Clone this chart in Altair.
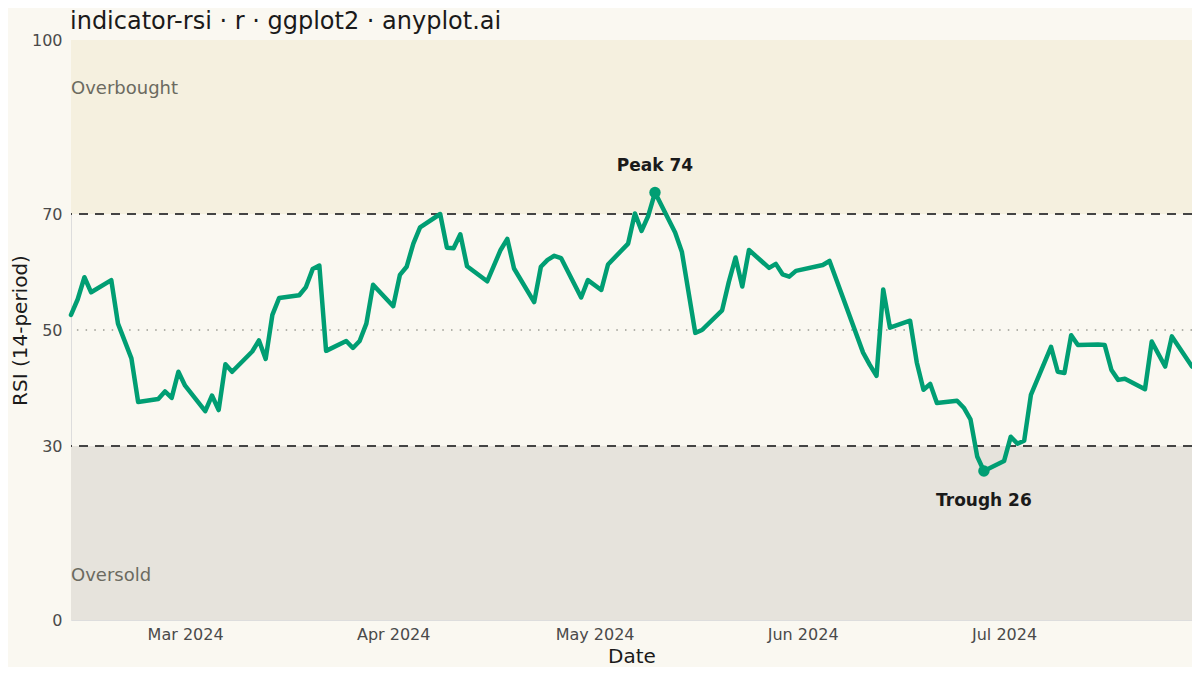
import pandas as pd
import altair as alt

# RSI readings (trading days)
dates = [
    "2024-02-13", "2024-02-14", "2024-02-15", "2024-02-16", "2024-02-19", "2024-02-20",
    "2024-02-22", "2024-02-23", "2024-02-26", "2024-02-27", "2024-02-28", "2024-02-29",
    "2024-03-01", "2024-03-04", "2024-03-05", "2024-03-06", "2024-03-07", "2024-03-08",
    "2024-03-11", "2024-03-12", "2024-03-13", "2024-03-14", "2024-03-15", "2024-03-18",
    "2024-03-19", "2024-03-20", "2024-03-21", "2024-03-22", "2024-03-25", "2024-03-26",
    "2024-03-27", "2024-03-28", "2024-03-29", "2024-04-01", "2024-04-02", "2024-04-03",
    "2024-04-04", "2024-04-05", "2024-04-08", "2024-04-09", "2024-04-10", "2024-04-11",
    "2024-04-12", "2024-04-15", "2024-04-17", "2024-04-18", "2024-04-19", "2024-04-22",
    "2024-04-23", "2024-04-24", "2024-04-25", "2024-04-26", "2024-04-29", "2024-04-30",
    "2024-05-02", "2024-05-03", "2024-05-06", "2024-05-07", "2024-05-08", "2024-05-09",
    "2024-05-10", "2024-05-13", "2024-05-14", "2024-05-16", "2024-05-17", "2024-05-20",
    "2024-05-21", "2024-05-22", "2024-05-23", "2024-05-24", "2024-05-27", "2024-05-28",
    "2024-05-29", "2024-05-30", "2024-05-31", "2024-06-04", "2024-06-05", "2024-06-10",
    "2024-06-11", "2024-06-12", "2024-06-13", "2024-06-14", "2024-06-17", "2024-06-18",
    "2024-06-19", "2024-06-20", "2024-06-21", "2024-06-24", "2024-06-25", "2024-06-26",
    "2024-06-27", "2024-06-28", "2024-07-01", "2024-07-02", "2024-07-03", "2024-07-04",
    "2024-07-05", "2024-07-08", "2024-07-09", "2024-07-10", "2024-07-11", "2024-07-12",
    "2024-07-15", "2024-07-16", "2024-07-17", "2024-07-18", "2024-07-19", "2024-07-22",
    "2024-07-23", "2024-07-25", "2024-07-26", "2024-07-29",
]
rsi = [
    52.6, 55.3, 59.1, 56.5, 58.6, 51.1,
    45.1, 37.6, 38.1, 39.4, 38.3, 42.8,
    40.4, 36.0, 38.7, 36.2, 44.1, 42.8,
    46.3, 48.2, 45.0, 52.6, 55.5, 56.0,
    57.4, 60.5, 61.1, 46.4, 48.1, 46.9,
    48.1, 51.1, 57.8, 54.1, 59.5, 60.9,
    64.9, 67.7, 70.0, 64.2, 64.1, 66.5,
    61.0, 58.4, 63.8, 65.7, 60.6, 54.8,
    60.9, 62.1, 62.8, 62.4, 55.6, 58.6,
    56.9, 61.3, 64.9, 70.1, 67.1, 69.7,
    73.7, 66.8, 63.5, 49.5, 50.0, 53.4,
    58.3, 62.5, 57.5, 63.8, 60.7, 61.4,
    59.6, 59.2, 60.2, 61.2, 61.9, 46.1,
    44.0, 42.1, 57.0, 50.4, 51.6, 44.4,
    39.7, 40.7, 37.4, 37.8, 36.6, 34.6,
    28.2, 25.7, 27.4, 31.6, 30.4, 30.9,
    38.8, 47.1, 42.8, 42.6, 49.1, 47.4,
    47.5, 47.4, 43.1, 41.4, 41.6, 39.8,
    48.0, 43.7, 48.9, 43.7,
]

# Zones and thresholds
zone_names = ["Overbought", "Oversold"]
zone_low = [70, 0]
zone_high = [100, 30]
zone_label_at = [92, 8]
zone_colors = ["#F5F0DF", "#E6E3DC"]
thresholds = [70, 30]
midline = [50]
y_ticks = [0, 30, 50, 70, 100]
title_text = ["indicator-rsi · r · ggplot2 · anyplot.ai"]

BG = "#FAF8F1"
GREEN = "#009E73"
FONT = "DejaVu Sans"

df = pd.DataFrame({"date": dates, "rsi": rsi})

# Peak and trough markers
peak = df.loc[df["rsi"].idxmax()]
trough = df.loc[df["rsi"].idxmin()]
marks = pd.DataFrame({
    "date": [peak["date"], trough["date"]],
    "rsi": [peak["rsi"], trough["rsi"]],
    "label": [f"Peak {round(peak['rsi'])}", f"Trough {round(trough['rsi'])}"],
})

zones = pd.DataFrame({"zone": zone_names, "low": zone_low, "high": zone_high,
                      "at": zone_label_at})

x_enc = alt.X(
    "date:T",
    title="Date",
    scale=alt.Scale(type="utc", nice=False),
    axis=alt.Axis(labelExpr="utcFormat(datum.value, '%b %Y')",
                  tickCount={"interval": "month", "step": 1},
                  grid=False, ticks=False, domain=False,
                  labelFontSize=16, labelColor="#4a4a4a", labelPadding=6,
                  titleFontSize=20, titleColor="#1a1a1a", titleFontWeight="normal",
                  titlePadding=4),
)
y_scale = alt.Scale(domain=[0, 100], nice=False, zero=False)
y_enc = alt.Y(
    "rsi:Q",
    title="RSI (14-period)",
    scale=y_scale,
    axis=alt.Axis(values=y_ticks, grid=False, ticks=False, domain=False,
                  labelFontSize=16, labelColor="#4a4a4a", labelPadding=9,
                  titleFontSize=20, titleColor="#1a1a1a", titleFontWeight="normal",
                  titlePadding=1),
)

bands = alt.Chart(zones).mark_rect().encode(
    y=alt.Y("low:Q", scale=y_scale),
    y2="high:Q",
    color=alt.Color("zone:N", scale=alt.Scale(domain=zone_names, range=zone_colors),
                    legend=None),
)

zone_text = alt.Chart(zones).mark_text(
    align="left", baseline="middle", fontSize=18, color="#6b6a60", font=FONT, dy=2.5
).encode(
    x=alt.value(0),
    y=alt.Y("at:Q", scale=y_scale),
    text="zone:N",
)

thr_rules = alt.Chart(pd.DataFrame({"v": thresholds})).mark_rule(
    color="#444444", strokeWidth=2, strokeDash=[9, 7]
).encode(y=alt.Y("v:Q", scale=y_scale))

mid_rule = alt.Chart(pd.DataFrame({"v": midline})).mark_rule(
    color="#9a9a92", strokeWidth=1.5, strokeDash=[1.5, 7.2]
).encode(y=alt.Y("v:Q", scale=y_scale))

line = alt.Chart(df).mark_line(
    color=GREEN, strokeWidth=4.5, strokeJoin="round", strokeCap="round"
).encode(x=x_enc, y=y_enc)

dots = alt.Chart(marks).mark_circle(color=GREEN, size=130, opacity=1).encode(
    x="date:T", y=alt.Y("rsi:Q", scale=y_scale)
)

peak_text = alt.Chart(marks.iloc[[0]]).mark_text(
    fontSize=17, fontWeight="bold", color="#1a1a1a", font=FONT, dy=-27
).encode(x="date:T", y=alt.Y("rsi:Q", scale=y_scale), text="label:N")

trough_text = alt.Chart(marks.iloc[[1]]).mark_text(
    fontSize=17, fontWeight="bold", color="#1a1a1a", font=FONT, dy=30
).encode(x="date:T", y=alt.Y("rsi:Q", scale=y_scale), text="label:N")

# Title drawn as a text mark above the plot area
title = alt.Chart(pd.DataFrame({"t": title_text})).mark_text(
    align="left", baseline="alphabetic", fontSize=24, color="#1a1a1a", font=FONT
).encode(x=alt.value(-1), y=alt.value(-11.5), text="t:N")

chart = alt.layer(
    bands, zone_text, thr_rules, mid_rule, line, dots, peak_text, trough_text, title
).properties(
    width=1121,
    height=580,
    background=BG,
    padding={"left": 63, "top": 32, "right": 0, "bottom": 47},
    autosize=alt.AutoSizeParams(type="none"),
).configure_view(stroke=None).configure(font=FONT)

chart.save("out.html", embed_options={"renderer": "svg", "actions": False})
